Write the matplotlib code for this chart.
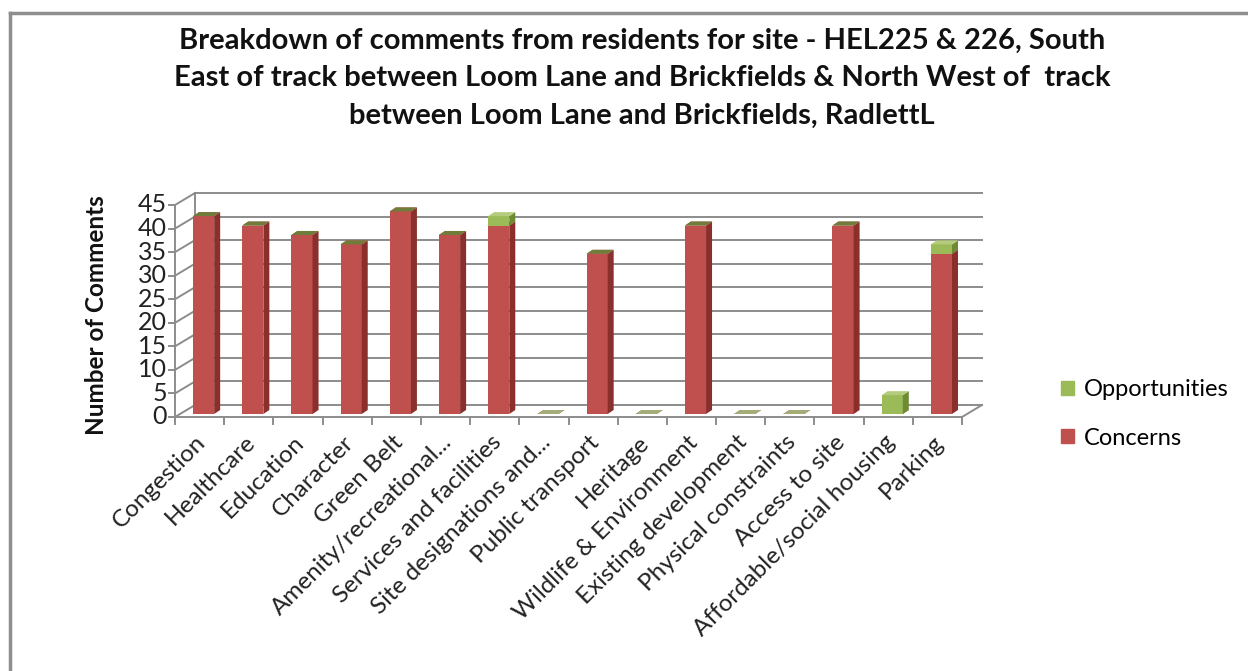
import matplotlib
matplotlib.use("Agg")
import matplotlib.pyplot as plt
from matplotlib.patches import Patch
from matplotlib.lines import Line2D

plt.rcParams['font.family'] = ['Lato', 'DejaVu Sans']

# chart data
categories = ['Congestion', 'Healthcare', 'Education', 'Character', 'Green Belt',
              'Amenity/recreational...', 'Services and facilities', 'Site designations and...',
              'Public transport', 'Heritage', 'Wildlife & Environment', 'Existing development',
              'Physical constraints', 'Access to site', 'Affordable/social housing', 'Parking']
concerns = [42, 40, 38, 36, 43, 38, 40, 0, 34, 0, 40, 0, 0, 40, 0, 34]
opportunities = [0, 0, 0, 0, 0, 0, 2, 0, 0, 0, 0, 0, 0, 0, 4, 2]
y_ticks = list(range(0, 50, 5))
title = ("Breakdown of comments from residents for site - HEL225 & 226, South\n"
         "East of track between Loom Lane and Brickfields & North West of  track\n"
         "between Loom Lane and Brickfields, RadlettL")

RED = '#C0504D'
RED_SIDE = '#8A2F2C'
GREEN = '#9BBB59'
GREEN_SIDE = '#6E8A35'
GREEN_TOP = '#B4CC7C'
CAP_TOP = '#6F7C3A'
GRID = '#8C8C8C'

W, H = 1248, 671
fig = plt.figure(figsize=(W / 100, H / 100), dpi=100)

# front plane of the pseudo-3D plot in pixels
left_px, floor_px, width_px, height_px = 175, 417, 787, 212
ax = fig.add_axes([left_px / W, (H - floor_px) / H, width_px / W, height_px / H])
ax.set_xlim(-0.5, len(categories) - 0.5)
ax.set_ylim(0, 45)
ax.axis('off')

ux = len(categories) / width_px   # data units per pixel
uy = 45 / height_px
wall_dx, wall_dy = 20 * ux, 12 * uy
ox, oy = 4 * ux, 3 * uy          # bar front offset behind front plane
bdx, bdy = 6 * ux, 4 * uy        # bar depth
bar_w = 0.43

x0, x1 = -0.5, len(categories) - 0.5
kw = dict(color=GRID, lw=1.4, clip_on=False, zorder=1)
# back wall gridlines and left wall
for v in y_ticks:
    ax.plot([x0 + wall_dx, x1 + wall_dx], [v + wall_dy, v + wall_dy], **kw)
    ax.plot([x0, x0 + wall_dx], [v, v + wall_dy], **kw)
    ax.plot([x0 - 6 * ux, x0], [v, v], **kw)
    ax.text(x0 - 8 * ux, v, str(v), ha='right', va='center', fontsize=18, color='#222222')
ax.plot([x0, x0], [0, 45], **kw)
ax.plot([x0 + wall_dx, x0 + wall_dx], [wall_dy, 45 + wall_dy], **kw)
# floor
ax.plot([x0, x1], [0, 0], **kw)
ax.plot([x1, x1 + wall_dx], [0, wall_dy], **kw)
for k in range(len(categories) + 1):
    ax.plot([x0 + k, x0 + k], [0, -7 * uy], **kw)


def box(i, y0, y1, front, side, top):
    xl = i - bar_w / 2 + ox
    xr = i + bar_w / 2 + ox
    if y1 > y0:
        ax.bar(i + ox, y1 - y0, width=bar_w, bottom=y0 + oy, color=front,
               edgecolor='none', zorder=3)
        ax.fill([xr, xr + bdx, xr + bdx, xr],
                [y0 + oy, y0 + oy + bdy, y1 + oy + bdy, y1 + oy],
                color=side, lw=0, zorder=3)
    ax.fill([xl, xl + bdx, xr + bdx, xr],
            [y1 + oy, y1 + oy + bdy, y1 + oy + bdy, y1 + oy],
            color=top, lw=0, zorder=3)


for i, (c, o) in enumerate(zip(concerns, opportunities)):
    box(i, 0, c, RED, RED_SIDE, RED)
    if o > 0:
        box(i, c, c + o, GREEN, GREEN_SIDE, GREEN_TOP)
    elif c > 0:
        box(i, c, c, GREEN, GREEN_SIDE, CAP_TOP)
    else:
        box(i, 0, 0, GREEN, GREEN_SIDE, '#A4AC78')

# category labels
for i, name in enumerate(categories):
    ax.text(i + 3 * ux, -22 * uy, name, rotation=45, rotation_mode='anchor',
            ha='right', va='center', fontsize=17.5, color='#222222')

fig.text(97 / W, 1 - 315 / H, 'Number of Comments', rotation=90, ha='center',
         va='center', fontsize=17.5, fontweight='bold', color='#111111')
fig.text(642 / W, 1 - 78 / H, title, ha='center', va='center', fontsize=21,
         fontweight='bold', linespacing=1.55, color='#111111')

handles = [Patch(color=GREEN), Patch(color=RED)]
fig.legend(handles, ['Opportunities', 'Concerns'], loc='center left',
           bbox_to_anchor=(1040 / W, 1 - 414 / H), frameon=False, fontsize=17,
           handlelength=0.55, handleheight=0.55, handletextpad=0.4, labelspacing=1.15)

# chart border (partly cut off in the source screenshot)
fig.add_artist(Line2D([10 / W, 1], [1 - 13 / H, 1 - 13 / H], color='#8E8E8E', lw=2.5))
fig.add_artist(Line2D([10 / W, 10 / W], [0, 1 - 13 / H], color='#8E8E8E', lw=2.5))

fig.savefig('out.png', dpi=100)
